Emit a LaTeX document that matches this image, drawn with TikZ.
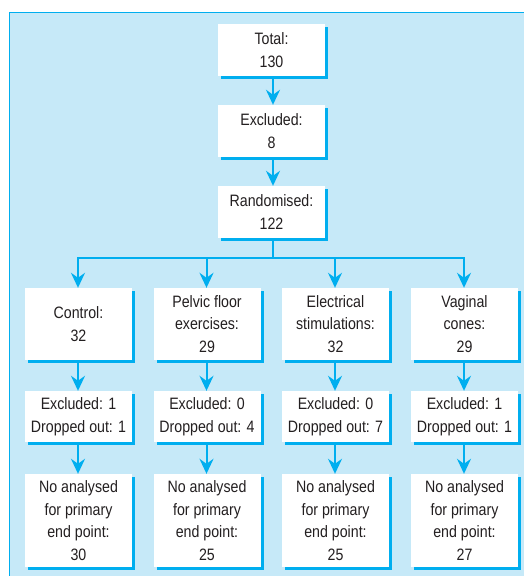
\documentclass[tikz,border=0pt]{standalone}
\usepackage{fontspec}
\setmainfont[FakeStretch=0.86]{Liberation Sans}
\usetikzlibrary{arrows.meta,shadows}
\definecolor{myblue}{RGB}{0,174,239}
\definecolor{panelbg}{RGB}{198,233,248}
\definecolor{ink}{RGB}{35,31,32}
\tikzset{
  box/.style={fill=white, minimum width=107pt, inner sep=1pt, align=center,
    text=ink, font=\fontsize{16.5}{22.5}\selectfont,
    drop shadow={shadow xshift=3pt, shadow yshift=-3pt, fill=myblue, opacity=1}},
  toprow/.style={box, minimum height=52pt},
  row1/.style={box, minimum height=72pt},
  row2/.style={box, minimum height=51pt},
  row3/.style={box, minimum height=93pt},
  conn/.style={draw=myblue, line width=2pt,
    -{Stealth[length=15pt,width=14pt,inset=5pt]}},
  stem/.style={draw=myblue, line width=2pt}
}
\begin{document}
\begin{tikzpicture}[x=1pt,y=-1pt]
\useasboundingbox (0,0) rectangle (524,576);
\draw[fill=panelbg, draw=myblue, line width=1pt] (9,12) rectangle (545,600);

\node[toprow] (total) at (271.5,50) {Total:\\130};
\node[toprow] (excl) at (271.5,131) {Excluded:\\8};
\node[toprow] (rand) at (271.5,212) {Randomised:\\122};

\node[row1] (c1) at (78.5,324) {Control:\\32};
\node[row1] (c2) at (207,324) {Pelvic floor\\exercises:\\29};
\node[row1] (c3) at (335.5,324) {Electrical\\stimulations:\\32};
\node[row1] (c4) at (464.5,324) {Vaginal\\cones:\\29};

\node[row2] (d1) at (78.5,416.5) {Excluded: 1\\Dropped out: 1};
\node[row2] (d2) at (207,416.5) {Excluded: 0\\Dropped out: 4};
\node[row2] (d3) at (335.5,416.5) {Excluded: 0\\Dropped out: 7};
\node[row2] (d4) at (464.5,416.5) {Excluded: 1\\Dropped out: 1};

\node[row3] (e1) at (78.5,520.5) {No analysed\\for primary\\end point:\\30};
\node[row3] (e2) at (207,520.5) {No analysed\\for primary\\end point:\\25};
\node[row3] (e3) at (335.5,520.5) {No analysed\\for primary\\end point:\\25};
\node[row3] (e4) at (464.5,520.5) {No analysed\\for primary\\end point:\\27};

\draw[conn] ([xshift=1.5pt]total.south) -- ([xshift=1.5pt]excl.north);
\draw[conn] ([xshift=1.5pt]excl.south) -- ([xshift=1.5pt]rand.north);

\coordinate (split) at ([xshift=1.5pt,yshift=-20pt]rand.south);
\draw[stem] ([xshift=1.5pt]rand.south) -- (split);
\foreach \c in {c1,c2,c3,c4}{
  \draw[conn] (split) -| ([xshift=-0.5pt]\c.north);
}
\foreach \a/\b in {c1/d1,c2/d2,c3/d3,c4/d4,d1/e1,d2/e2,d3/e3,d4/e4}{
  \draw[conn] ([xshift=-0.5pt,yshift=-3pt]\a.south) -- ([xshift=-0.5pt]\b.north);
}
\end{tikzpicture}
\end{document}
